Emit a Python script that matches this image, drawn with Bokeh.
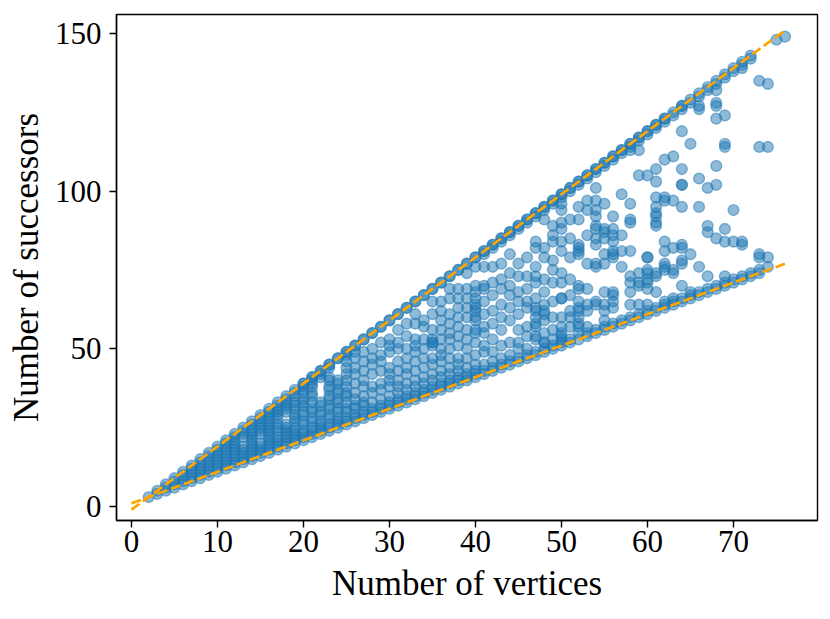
from bokeh.plotting import figure
from bokeh.models import Range1d, FixedTicker, ColumnDataSource
from bokeh.embed import file_html
from bokeh.resources import INLINE

# ---- data ----
vertices = list(range(2, 77))
successors = [
    [3],                                                   # 2
    [4, 5],                                                # 3
    [5, 6, 7],                                             # 4
    [6, 7, 8, 9],                                          # 5
    [7, 8, 9, 10, 11],                                     # 6
    [8, 9, 10, 11, 12, 13],                                # 7
    [9, 10, 11, 12, 13, 14, 15],                           # 8
    [10, 11, 12, 13, 14, 15, 16, 17],                      # 9
    [11, 12, 13, 14, 15, 16, 17, 18, 19],                  # 10
    [12, 13, 14, 15, 16, 17, 18, 19, 20, 21],              # 11
    [13, 14, 15, 16, 17, 18, 19, 20, 21, 22, 23],          # 12
    [14, 15, 16, 17, 18, 19, 22, 23, 24, 25],              # 13
    [15, 16, 17, 18, 19, 20, 21, 22, 23, 24, 25, 26, 27],  # 14
    [16, 17, 18, 19, 20, 23, 24, 25, 26, 27, 28, 29],      # 15
    [17, 18, 19, 20, 21, 22, 23, 24, 25, 26, 27, 28, 29, 30, 31],  # 16
    [18, 19, 20, 21, 22, 24, 25, 26, 28, 29, 30, 31, 32, 33],      # 17
    [19, 20, 21, 22, 23, 24, 25, 26, 30, 31, 32, 33, 34, 35],      # 18
    [20, 21, 22, 23, 24, 25, 27, 28, 29, 31, 32, 33, 35, 36, 37],  # 19
    [21, 22, 23, 24, 26, 27, 29, 30, 32, 33, 34, 36, 37, 38, 39, 39],  # 20
    [22, 23, 24, 25, 27, 28, 30, 31, 33, 35, 36, 38, 39, 40, 41, 41],  # 21
    [23, 24, 25, 26, 27, 29, 30, 32, 33, 41, 42, 43, 43],              # 22
    [24, 25, 26, 28, 29, 31, 32, 34, 35, 37, 38, 40, 41, 44, 45, 45],  # 23
    [25, 26, 27, 28, 30, 31, 33, 34, 36, 37, 39, 40, 47, 47],          # 24
    [26, 27, 28, 30, 31, 33, 35, 36, 38, 40, 42, 44, 46, 48, 49, 49],  # 25
    [27, 28, 29, 31, 32, 34, 36, 39, 42, 44, 47, 49, 51, 51],          # 26
    [28, 29, 30, 32, 33, 35, 38, 40, 43, 46, 49, 53, 53],              # 27
    [29, 30, 31, 33, 36, 38, 42, 45, 47, 50, 55, 55],                  # 28
    [30, 31, 32, 34, 37, 39, 43, 46, 48, 52, 57, 57],                  # 29
    [31, 32, 33, 35, 38, 40, 42, 44, 49, 51, 53, 59, 59],              # 30
    [32, 33, 34, 36, 38, 40, 43, 46, 50, 52, 56, 61, 61],              # 31
    [33, 34, 35, 37, 39, 42, 44, 47, 50, 54, 58, 63, 63],              # 32
    [34, 35, 36, 38, 40, 43, 46, 49, 51, 53, 58, 61, 65, 65],          # 33
    [35, 36, 37, 39, 41, 44, 47, 50, 53, 57, 59, 67, 67],              # 34
    [36, 37, 38, 40, 42, 45, 47, 51, 52, 52, 53, 56, 61, 65, 69, 69],  # 35
    [37, 38, 39, 41, 43, 46, 48, 50, 53, 56, 59, 62, 65, 71, 71],      # 36
    [38, 39, 40, 42, 44, 47, 50, 53, 55, 58, 61, 66, 69, 73, 73],      # 37
    [39, 40, 41, 43, 45, 47, 51, 54, 57, 60, 63, 66, 69, 75, 75],      # 38
    [40, 41, 42, 44, 47, 50, 53, 56, 60, 63, 66, 69, 74, 77, 77],      # 39
    [41, 42, 43, 45, 48, 52, 55, 56, 59, 60, 62, 63, 64, 66, 68, 70, 76, 79, 79],  # 40
    [42, 43, 45, 49, 51, 55, 57, 61, 65, 69, 70, 76, 80, 81, 81],      # 41
    [43, 44, 46, 49, 53, 58, 62, 67, 71, 76, 82, 83, 83],              # 42
    [44, 45, 47, 51, 56, 60, 64, 69, 72, 77, 84, 85, 85],              # 43
    [45, 46, 48, 52, 59, 63, 67, 70, 74, 80, 86, 87, 87],              # 44
    [46, 47, 50, 52, 56, 61, 65, 68, 73, 77, 88, 89, 89],              # 45
    [47, 48, 50, 54, 57, 63, 65, 69, 73, 79, 90, 91, 91],              # 46
    [48, 49, 53, 54, 57, 58, 60, 62, 63, 66, 71, 73, 76, 82, 84, 92, 93, 93],  # 47
    [49, 50, 52, 52, 55, 59, 61, 62, 64, 68, 72, 79, 82, 91, 94, 95, 95],      # 48
    [50, 51, 53, 56, 60, 65, 71, 75, 78, 84, 86, 89, 96, 97, 97],              # 49
    [51, 52, 53, 54, 55, 57, 60, 66, 66, 71, 74, 81, 84, 88, 90, 94, 96, 98, 99, 99],  # 50
    [52, 53, 57, 60, 62, 67, 72, 79, 85, 91, 100, 101, 101],                   # 51
    [53, 55, 57, 58, 60, 62, 63, 65, 69, 70, 80, 81, 82, 83, 91, 95, 102, 103, 103],  # 52
    [54, 55, 57, 62, 64, 69, 77, 86, 94, 97, 104, 105, 105],                   # 53
    [55, 56, 64, 65, 76, 77, 83, 85, 88, 89, 92, 94, 97, 101, 106, 107, 107],  # 54
    [56, 57, 59, 62, 64, 68, 77, 80, 85, 87, 88, 96, 108, 109, 109],           # 55
    [57, 58, 63, 65, 67, 68, 79, 80, 81, 84, 86, 88, 92, 110, 111, 111],       # 56
    [58, 59, 76, 81, 86, 99, 112, 113, 113],                                   # 57
    [59, 60, 64, 68, 71, 73, 81, 90, 91, 96, 113, 114, 115, 115],              # 58
    [60, 61, 64, 70, 71, 74, 105, 113, 116, 117, 117],                         # 59
    [61, 62, 64, 69, 71, 72, 74, 75, 79, 79, 105, 118, 119, 119],              # 60
    [62, 63, 68, 73, 74, 89, 90, 92, 93, 95, 98, 103, 107, 120, 121, 121],     # 61
    [63, 64, 65, 75, 76, 77, 81, 84, 97, 98, 110, 122, 123, 123],              # 62
    [64, 65, 66, 74, 75, 82, 97, 111, 124, 125],                               # 63
    [65, 66, 70, 77, 78, 82, 83, 95, 102, 102, 107, 119, 126, 127, 127],       # 64
    [66, 67, 68, 80, 115, 128, 129],                                           # 65
    [67, 68, 76, 95, 104, 126, 127, 130, 131],                                 # 66
    [68, 69, 73, 87, 89, 101, 132, 133],                                       # 67
    [69, 70, 85, 102, 108, 123, 127, 128, 132, 134, 135],                      # 68
    [70, 71, 73, 84, 88, 114, 115, 124, 136, 137],                             # 69
    [71, 72, 84, 94, 138, 139],                                                # 70
    [72, 73, 83, 84, 139, 140, 141],                                           # 71
    [73, 74, 142, 143],                                                        # 72
    [74, 75, 79, 80, 114, 135],                                                # 73
    [76, 79, 114, 134],                                                        # 74
    [148],                                                                     # 75
    [149],                                                                     # 76
]

bound_vertices = [0, 76]
upper_bound = [-1, 151]
lower_bound = [1, 77]

x_ticks = [0, 10, 20, 30, 40, 50, 60, 70]
y_ticks = [0, 50, 100, 150]

xs = [v for v, col in zip(vertices, successors) for _ in col]
ys = [s for col in successors for s in col]
src = ColumnDataSource(dict(x=xs, y=ys))

FONT = "Liberation Serif"

p = figure(width=822, height=610,
           x_range=Range1d(-1.74, 79.77), y_range=Range1d(-4.44, 156.0),
           output_backend="svg", toolbar_location=None,
           min_border_left=116, min_border_right=5,
           min_border_top=14, min_border_bottom=90)

p.scatter("x", "y", source=src, size=10.8, marker="circle",
          fill_color="#1f77b4", fill_alpha=0.5,
          line_color="#1f77b4", line_alpha=0.5, line_width=1.4)

p.line(bound_vertices, upper_bound, line_color="#ffa500", line_width=2.7,
       line_dash="10 4")
p.line(bound_vertices, lower_bound, line_color="#ffa500", line_width=2.7,
       line_dash="10 4")

p.grid.visible = False
p.outline_line_color = "black"
p.outline_line_width = 1.4
p.outline_line_alpha = 1.0
p.background_fill_color = "white"
p.border_fill_color = "white"

p.xaxis.ticker = FixedTicker(ticks=x_ticks)
p.yaxis.ticker = FixedTicker(ticks=y_ticks)

for ax in (p.xaxis, p.yaxis):
    ax.axis_line_color = "black"
    ax.axis_line_width = 1.4
    ax.major_tick_line_color = "black"
    ax.major_tick_line_width = 1.4
    ax.major_tick_out = 7
    ax.major_tick_in = 0
    ax.minor_tick_line_color = None
    ax.major_label_text_font = FONT
    ax.major_label_text_font_size = "31px"
    ax.major_label_text_color = "black"
    ax.axis_label_text_font = FONT
    ax.axis_label_text_font_size = "35px"
    ax.axis_label_text_font_style = "normal"
    ax.axis_label_text_color = "black"

p.xaxis.axis_label = "Number of vertices"
p.yaxis.axis_label = "Number of successors"
p.xaxis.major_label_standoff = 3
p.xaxis.axis_label_standoff = 9
p.yaxis.major_label_standoff = 8
p.yaxis.axis_label_standoff = 6

open("out.html", "w").write(file_html(p, INLINE))
